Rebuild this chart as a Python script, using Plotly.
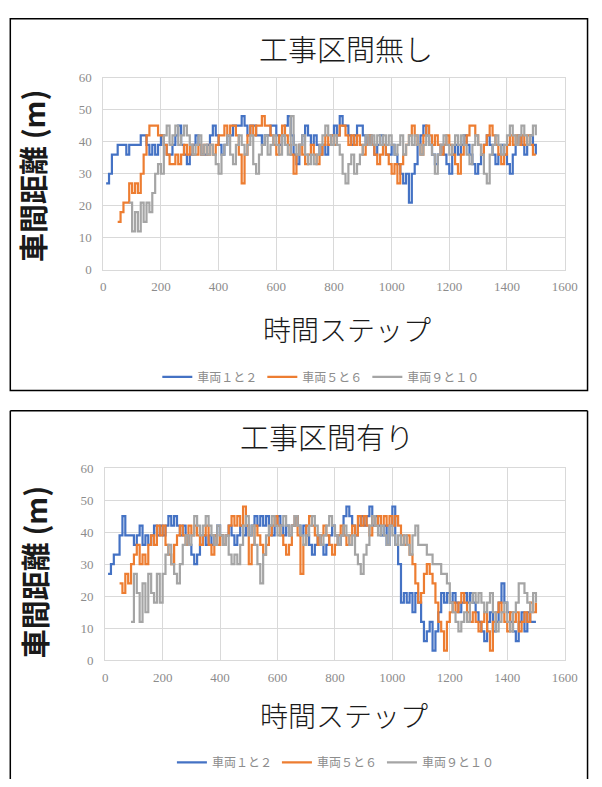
import plotly.graph_objects as go

# Sampling interval of the recorded headway (time steps)
STEP = 10

# ---------- 工事区間無し ----------
free_start = {"12": 10, "56": 50, "910": 90}
free_12 = [
    27, 30, 36, 36, 39, 39, 39, 36, 39, 39,
    39, 39, 42, 42, 39, 36, 39, 36, 39, 42,
    39, 36, 36, 39, 42, 45, 39, 36, 33, 36,
    39, 42, 39, 36, 36, 39, 42, 45, 42, 39,
    36, 39, 42, 42, 45, 45, 45, 48, 45, 42,
    45, 45, 42, 42, 39, 42, 42, 45, 45, 42,
    39, 42, 45, 48, 42, 36, 33, 39, 42, 45,
    42, 39, 42, 39, 36, 39, 36, 39, 42, 45,
    42, 48, 45, 45, 42, 39, 42, 45, 45, 42,
    39, 42, 39, 36, 39, 42, 39, 36, 36, 39,
    36, 33, 30, 27, 30, 21, 30, 33, 39, 42,
    45, 42, 39, 36, 33, 36, 39, 36, 33, 30,
    36, 39, 36, 39, 42, 39, 36, 33, 30, 33,
    36, 39, 42, 39, 36, 33, 36, 39, 36, 33,
    30, 36, 39, 42, 39, 36, 39, 42, 39, 36,
]
free_56 = [
    15, 18, 21, 21, 27, 24, 27, 24, 30, 36,
    42, 45, 45, 45, 42, 42, 39, 36, 33, 33,
    36, 33, 36, 39, 36, 39, 36, 36, 39, 36,
    39, 36, 39, 36, 39, 42, 42, 45, 42, 45,
    45, 42, 36, 27, 36, 42, 45, 42, 45, 45,
    48, 45, 45, 42, 39, 36, 42, 45, 42, 39,
    36, 30, 36, 39, 36, 33, 36, 39, 36, 33,
    36, 39, 42, 39, 42, 39, 42, 45, 45, 42,
    39, 42, 39, 42, 39, 36, 39, 42, 39, 36,
    33, 36, 39, 36, 33, 30, 33, 27, 33, 36,
    39, 42, 45, 42, 39, 36, 42, 45, 42, 39,
    42, 39, 36, 39, 42, 39, 36, 33, 30, 36,
    39, 42, 45, 45, 42, 39, 36, 39, 42, 45,
    42, 39, 36, 33, 36, 39, 42, 39, 42, 39,
    42, 39, 42, 39, 36, 36,
]
free_910 = [
    21, 12, 18, 12, 21, 15, 21, 18, 24, 30,
    33, 30, 42, 45, 39, 42, 45, 39, 42, 45,
    42, 39, 36, 39, 42, 36, 39, 36, 39, 36,
    33, 30, 36, 39, 42, 36, 33, 39, 42, 39,
    36, 39, 42, 33, 30, 36, 39, 42, 36, 39,
    42, 39, 36, 42, 39, 36, 48, 39, 36, 39,
    42, 36, 33, 36, 33, 36, 39, 42, 45, 42,
    39, 42, 39, 36, 30, 27, 33, 36, 30, 33,
    36, 39, 42, 39, 42, 39, 42, 39, 42, 39,
    42, 39, 36, 39, 42, 36, 39, 42, 39, 42,
    39, 36, 39, 42, 39, 36, 30, 36, 39, 42,
    39, 36, 39, 42, 39, 42, 39, 36, 33, 39,
    42, 39, 36, 30, 27, 36, 39, 42, 39, 36,
    39, 42, 45, 42, 39, 42, 45, 42, 39, 42,
    45, 42,
]

# ---------- 工事区間有り ----------
work_start = {"12": 10, "56": 50, "910": 90}
work_12 = [
    27, 30, 33, 33, 39, 45, 39, 39, 39, 36,
    39, 42, 36, 39, 36, 39, 42, 39, 42, 39,
    42, 45, 42, 45, 42, 39, 42, 39, 36, 33,
    30, 33, 36, 39, 36, 39, 36, 39, 42, 39,
    36, 39, 42, 39, 36, 39, 42, 39, 42, 39,
    42, 45, 42, 45, 42, 45, 42, 39, 42, 45,
    42, 39, 42, 39, 42, 45, 42, 39, 42, 39,
    36, 33, 36, 39, 36, 33, 36, 39, 42, 39,
    36, 39, 45, 48, 45, 42, 39, 42, 45, 42,
    45, 48, 42, 45, 42, 39, 42, 36, 42, 48,
    36, 30, 18, 21, 18, 21, 15, 21, 18, 12,
    6, 9, 12, 3, 9, 15, 21, 18, 21, 18,
    21, 18, 15, 18, 21, 18, 21, 18, 15, 12,
    9, 6, 12, 15, 9, 12, 18, 24, 18, 15,
    12, 9, 6, 12, 15, 9, 15, 12, 12, 12,
]
work_56 = [
    24, 21, 27, 24, 30, 33, 36, 30, 33, 30,
    36, 39, 36, 42, 39, 42, 36, 33, 30, 36,
    39, 42, 39, 36, 42, 39, 42, 39, 36, 39,
    42, 36, 33, 39, 36, 39, 36, 39, 42, 45,
    42, 45, 42, 48, 42, 30, 36, 42, 39, 36,
    33, 36, 39, 42, 45, 42, 39, 36, 33, 36,
    42, 45, 39, 27, 36, 42, 45, 42, 39, 36,
    39, 42, 39, 36, 33, 36, 39, 42, 39, 36,
    39, 42, 39, 45, 42, 45, 42, 39, 45, 42,
    45, 42, 45, 42, 45, 42, 45, 42, 39, 36,
    39, 33, 30, 24, 18, 21, 27, 30, 27, 24,
    18, 12, 9, 3, 12, 15, 18, 15, 18, 21,
    18, 15, 12, 15, 12, 9, 12, 15, 9, 3,
    12, 15, 18, 15, 12, 9, 15, 12, 15, 9,
    12, 15, 12, 18, 15, 18,
]
work_910 = [
    12, 27, 21, 12, 24, 15, 27, 21, 18, 27,
    18, 27, 33, 36, 30, 27, 24, 30, 36, 39,
    36, 39, 45, 42, 39, 42, 45, 42, 39, 36,
    42, 39, 36, 39, 33, 30, 33, 30, 36, 42,
    45, 39, 42, 36, 30, 24, 33, 39, 42, 45,
    42, 39, 42, 45, 42, 39, 42, 45, 42, 39,
    36, 39, 42, 45, 42, 39, 36, 39, 42, 45,
    42, 39, 36, 39, 42, 39, 36, 39, 33, 30,
    27, 33, 36, 42, 45, 42, 39, 42, 39, 36,
    42, 39, 36, 39, 36, 39, 36, 33, 39, 42,
    36, 36, 36, 33, 33, 30, 30, 30, 27, 27,
    24, 18, 15, 12, 9, 12, 15, 12, 18, 21,
    18, 21, 18, 15, 18, 21, 15, 9, 12, 15,
    18, 12, 9, 15, 18, 24, 24, 21, 18, 15,
    21, 18,
]

series_names = ["車両１と２", "車両５と６", "車両９と１０"]
series_keys = ["12", "56", "910"]
colors = ["#4472C4", "#ED7D31", "#A5A5A5"]

x_ticks = list(range(0, 1601, 200))
y_ticks = list(range(0, 61, 10))

W, H = 602, 787


def px(v):
    return v / W


def py(v):
    return 1 - v / H


fig = go.Figure()

panels = [
    ("x", "y", "legend", free_start, [free_12, free_56, free_910]),
    ("x2", "y2", "legend2", work_start, [work_12, work_56, work_910]),
]

for xa, ya, leg, starts, data in panels:
    for name, key, color, vals in zip(series_names, series_keys, colors, data):
        xs = [starts[key] + STEP * i for i in range(len(vals))]
        fig.add_trace(go.Scatter(
            x=xs, y=vals, mode="lines", name=name,
            line=dict(color=color, width=2.2, shape="hv"),
            xaxis=xa, yaxis=ya, legend=leg,
        ))

tick_font = dict(family="Liberation Serif", size=13, color="#8C8C8C")
axis_common = dict(
    showgrid=True, gridcolor="#D9D9D9", gridwidth=1,
    showline=True, linecolor="#D9D9D9", linewidth=1, mirror=True,
    zeroline=False, ticks="", tickfont=tick_font,
)
x_common = dict(axis_common, ticklabelstandoff=5)
y_common = dict(axis_common, ticklabelstandoff=8)

legend_font = dict(family="Noto Sans CJK JP", size=12, color="#8C8C8C")

fig.update_layout(
    width=W, height=H,
    margin=dict(l=0, r=0, t=0, b=0),
    paper_bgcolor="white", plot_bgcolor="white",
    xaxis=dict(domain=[px(103), px(577)], range=[0, 1600], tickvals=x_ticks,
               anchor="y", **x_common),
    yaxis=dict(domain=[py(268), py(72)], range=[0, 60], tickvals=y_ticks,
               anchor="x", **y_common),
    xaxis2=dict(domain=[px(105), px(577)], range=[0, 1600], tickvals=x_ticks,
                anchor="y2", **x_common),
    yaxis2=dict(domain=[py(666), py(470)], range=[0, 60], tickvals=y_ticks,
                anchor="x2", **y_common),
    legend=dict(orientation="h", x=px(327), y=py(377), xanchor="center",
                yanchor="middle", font=legend_font,
                bgcolor="rgba(0,0,0,0)"),
    legend2=dict(orientation="h", x=px(342), y=py(770), xanchor="center",
                 yanchor="middle", font=legend_font,
                 bgcolor="rgba(0,0,0,0)"),
    showlegend=True,
)

cjk = "Noto Sans CJK JP"
texts = [
    ("工事区間無し", 352, 42, 29, 0, 300),
    ("時間ステップ", 353, 328, 28, 0, 300),
    ("車間距離 (m)", 30, 172, 29, -90, 700),
    ("工事区間有り", 333, 437, 29, 0, 300),
    ("時間ステップ", 350, 722, 28, 0, 300),
    ("車間距離 (m)", 32, 576, 29, -90, 700),
]
for text, cx, cy, size, angle, weight in texts:
    fig.add_annotation(
        text=text,
        x=px(cx), y=py(cy), xref="paper", yref="paper",
        xanchor="center", yanchor="middle", showarrow=False,
        textangle=angle,
        font=dict(family=cjk, size=size, color="#1A1A1A", weight=weight),
    )

# Frames around the two charts
box = dict(color="black", width=1.5)
fig.add_shape(type="rect", xref="paper", yref="paper",
              x0=px(7.5), x1=px(600.5), y0=py(391), y1=py(12), line=box)
for x0, y0, x1, y1 in [(7.5, 411.5, 600.5, 411.5), (7.5, 411.5, 7.5, 787),
                       (600.5, 411.5, 600.5, 787)]:
    fig.add_shape(type="line", xref="paper", yref="paper",
                  x0=px(x0), y0=py(y0), x1=px(x1), y1=py(y1), line=box)

fig.write_html("out.html")
